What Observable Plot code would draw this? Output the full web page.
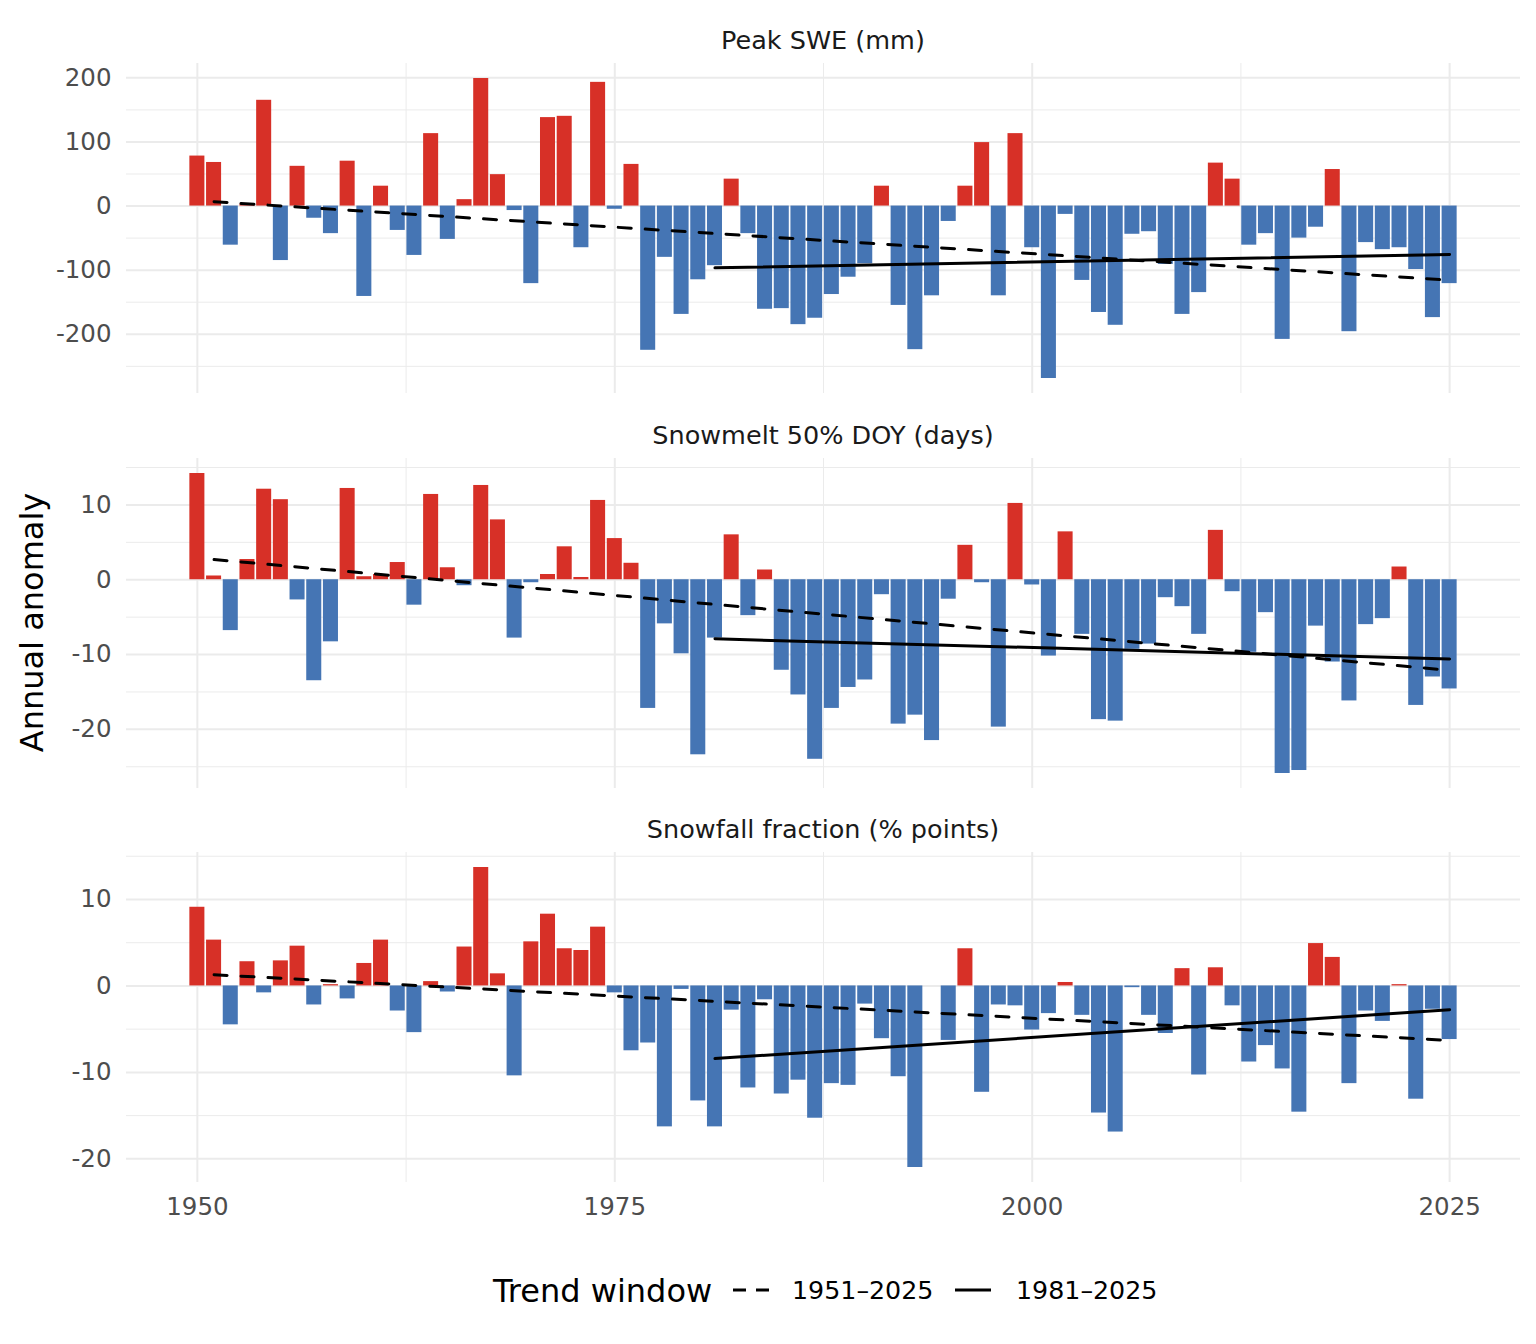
<!DOCTYPE html>
<html>
<head>
<meta charset="utf-8">
<script src="https://cdn.jsdelivr.net/npm/d3@7"></script>
<script src="https://cdn.jsdelivr.net/npm/@observablehq/plot@0.6"></script>
<style>
  body { margin: 0; background: #fff; font-family: "DejaVu Sans", sans-serif; }
  #chart { position: relative; width: 1536px; height: 1344px; overflow: hidden; background: #fff; }
  #chart > svg { position: absolute; left: 0; }
</style>
</head>
<body>
<div id="chart"></div>
<script>
// ---------------- DATA ----------------
const years = [1950,1951,1952,1953,1954,1955,1956,1957,1958,1959,
  1960,1961,1962,1963,1964,1965,1966,1967,1968,1969,
  1970,1971,1972,1973,1974,1975,1976,1977,1978,1979,
  1980,1981,1982,1983,1984,1985,1986,1987,1988,1989,
  1990,1991,1992,1993,1994,1995,1996,1997,1998,1999,
  2000,2001,2002,2003,2004,2005,2006,2007,2008,2009,
  2010,2011,2012,2013,2014,2015,2016,2017,2018,2019,
  2020,2021,2022,2023,2024,2025];

const panelTitles = ["Peak SWE (mm)", "Snowmelt 50% DOY (days)", "Snowfall fraction (% points)"];

const peakSWE = [78,68,-61,3,165,-85,62,-19,-43,70,
  -141,31,-38,-77,113,-52,10,199,49,-7,
  -121,138,140,-65,193,-5,65,-225,-80,-169,
  -115,-93,42,-43,-161,-160,-185,-175,-138,-111,
  -90,31,-155,-224,-140,-24,31,99,-140,113,
  -65,-269,-13,-116,-166,-186,-44,-40,-91,-169,
  -135,67,42,-61,-43,-208,-50,-33,57,-196,
  -57,-68,-65,-99,-174,-121];

const snowmelt50 = [14.2,0.5,-6.8,2.7,12.1,10.7,-2.7,-13.5,-8.3,12.2,
  0.4,0.7,2.3,-3.4,11.4,1.6,-0.8,12.6,8.0,-7.8,
  -0.4,0.7,4.4,0.3,10.6,5.5,2.2,-17.2,-5.9,-9.9,
  -23.4,-7.8,6.0,-4.8,1.3,-12.1,-15.4,-24.0,-17.2,-14.4,
  -13.4,-2.0,-19.3,-18.1,-21.5,-2.6,4.6,-0.4,-19.7,10.2,
  -0.7,-10.2,6.4,-7.3,-18.7,-18.9,-9.3,-8.6,-2.4,-3.6,
  -7.3,6.6,-1.6,-9.7,-4.4,-25.9,-25.5,-6.2,-11.0,-16.2,
  -6.0,-5.2,1.7,-16.8,-13.0,-14.6];

const snowfallFrac = [9.1,5.3,-4.5,2.8,-0.8,2.9,4.6,-2.2,0.15,-1.5,
  2.6,5.3,-2.9,-5.4,0.5,-0.7,4.5,13.7,1.4,-10.4,
  5.1,8.3,4.3,4.1,6.8,-0.8,-7.5,-6.6,-16.3,-0.4,
  -13.3,-16.3,-2.8,-11.8,-1.6,-12.5,-10.9,-15.3,-11.3,-11.5,
  -2.1,-6.1,-10.5,-21.0,0,-6.3,4.3,-12.3,-2.2,-2.3,
  -5.1,-3.2,0.4,-3.4,-14.7,-16.9,-0.2,-3.4,-5.5,2.0,
  -10.3,2.1,-2.3,-8.8,-6.9,-9.6,-14.6,4.9,3.3,-11.3,
  -2.9,-4.1,0.15,-13.1,-2.7,-6.2];

// trend windows: start/end years and fitted values at the ends (per panel)
const trendWindows = ["1951–2025", "1981–2025"];
const trendStartYear = [1951, 1981];
const trendEndYear = [2025, 2025];
const trendSWE = [[6.8, -115.6], [-96.4, -75.5]];
const trendMelt = [[2.7, -12.1], [-7.9, -10.6]];
const trendSnowfall = [[1.3, -6.3], [-8.4, -2.75]];

const yTicksSWE = [-200, -100, 0, 100, 200];
const yTicksMelt = [-20, -10, 0, 10];
const yTicksSnowfall = [-20, -10, 0, 10];
const xTicks = [1950, 1975, 2000, 2025];

// ---------------- STYLE / LAYOUT ----------------
const RED = "#d73027", BLUE = "#4575b4", GRID = "#ebebeb";
const FONT = "DejaVu Sans";
const W = 1536, ML = 126, MR = 16;
const panelTop = [63, 458, 852];
const panelH = 330;
const barHalf = 0.45;

const seriesList = [peakSWE, snowmelt50, snowfallFrac];
const trendList = [trendSWE, trendMelt, trendSnowfall];
const tickList = [yTicksSWE, yTicksMelt, yTicksSnowfall];

// x domain with ggplot-like 5% expansion of the bar extent
const xlo = d3.min(years) - barHalf, xhi = d3.max(years) + barHalf;
const xpad = (xhi - xlo) * 0.05;
const xDomain = [xlo - xpad, xhi + xpad];
const xMinor = xTicks.slice(0, -1).map((t, i) => (t + xTicks[i + 1]) / 2);

const chart = document.getElementById("chart");

seriesList.forEach((vals, p) => {
  const rows = years.map((yr, i) => ({
    x1: yr - barHalf, x2: yr + barHalf, value: vals[i], sign: vals[i] >= 0 ? "pos" : "neg"
  }));
  const trendRows = [];
  trendWindows.forEach((w, k) => {
    trendRows.push({window: w, year: trendStartYear[k], value: trendList[p][k][0]});
    trendRows.push({window: w, year: trendEndYear[k], value: trendList[p][k][1]});
  });
  const all = vals.concat(trendRows.map(d => d.value));
  const lo = d3.min(all), hi = d3.max(all), pad = (hi - lo) * 0.05;
  const yDomain = [lo - pad, hi + pad];
  const major = tickList[p];
  const step = major[1] - major[0];
  const minor = [];
  for (let t = major[0] - step / 2; t <= yDomain[1]; t += step) if (t >= yDomain[0]) minor.push(t);

  const last = p === seriesList.length - 1;
  const mt = 2, mb = last ? 50 : 2;

  const marks = [
    Plot.ruleY(minor, {stroke: GRID, strokeWidth: 1}),
    Plot.ruleX(xMinor, {stroke: GRID, strokeWidth: 1}),
    Plot.ruleY(major, {stroke: GRID, strokeWidth: 2}),
    Plot.ruleX(xTicks, {stroke: GRID, strokeWidth: 2}),
    Plot.rect(rows, {x1: "x1", x2: "x2", y1: 0, y2: "value", fill: "sign"}),
    Plot.line(trendRows.filter(d => d.window === trendWindows[0]),
      {x: "year", y: "value", stroke: "#000", strokeWidth: 3, strokeDasharray: "13,14"}),
    Plot.line(trendRows.filter(d => d.window === trendWindows[1]),
      {x: "year", y: "value", stroke: "#000", strokeWidth: 3}),
    Plot.axisY(major, {tickSize: 0, tickPadding: 15, tickFormat: d => String(d), label: null, fontSize: 24.5})
  ];
  if (last) marks.push(Plot.axisX(xTicks, {tickSize: 0, tickPadding: 15, tickFormat: d => String(d), label: null, fontSize: 24.5}));

  const svg = Plot.plot({
    width: W,
    height: panelH + mt + mb,
    marginLeft: ML, marginRight: MR, marginTop: mt, marginBottom: mb,
    x: last ? {domain: xDomain} : {domain: xDomain, axis: null},
    y: {domain: yDomain},
    color: {domain: ["pos", "neg"], range: [RED, BLUE]},
    style: {fontFamily: FONT, fontSize: "24.5px", color: "#4d4d4d", background: "transparent", overflow: "visible"},
    marks
  });
  svg.style.top = (panelTop[p] - mt) + "px";
  svg.style.maxWidth = "none";
  chart.appendChild(svg);
});

// ---------------- TITLES & LEGEND (overlay) ----------------
const ns = "http://www.w3.org/2000/svg";
const ov = document.createElementNS(ns, "svg");
ov.setAttribute("width", W); ov.setAttribute("height", 1344);
ov.style.top = "0px"; ov.style.pointerEvents = "none";
ov.setAttribute("font-family", FONT);
function txt(s, x, y, size, fill, anchor, rot) {
  const t = document.createElementNS(ns, "text");
  t.textContent = s;
  t.setAttribute("x", x); t.setAttribute("y", y);
  t.setAttribute("font-size", size); t.setAttribute("fill", fill);
  t.setAttribute("text-anchor", anchor); t.setAttribute("dy", "0.36em");
  if (rot) t.setAttribute("transform", `rotate(${rot},${x},${y})`);
  ov.appendChild(t);
}
function seg(x1, x2, y, dash) {
  const l = document.createElementNS(ns, "line");
  l.setAttribute("x1", x1); l.setAttribute("x2", x2);
  l.setAttribute("y1", y); l.setAttribute("y2", y);
  l.setAttribute("stroke", "#000"); l.setAttribute("stroke-width", 3);
  if (dash) l.setAttribute("stroke-dasharray", dash);
  ov.appendChild(l);
}
const cx = ML + (W - ML - MR) / 2;
panelTitles.forEach((s, p) => txt(s, cx, panelTop[p] - 23, 25.5, "#1a1a1a", "middle"));
txt("Annual anomaly", 31, (panelTop[0] + panelTop[2] + panelH) / 2, 32, "#000", "middle", -90);
// legend
const ly = 1290;
txt("Trend window", 493, ly, 32, "#000", "start");
seg(733, 769, ly, "13,10");
txt(trendWindows[0], 792, ly, 25.3, "#000", "start");
seg(955, 991, ly, null);
txt(trendWindows[1], 1016, ly, 25.3, "#000", "start");
chart.appendChild(ov);
</script>
</body>
</html>
